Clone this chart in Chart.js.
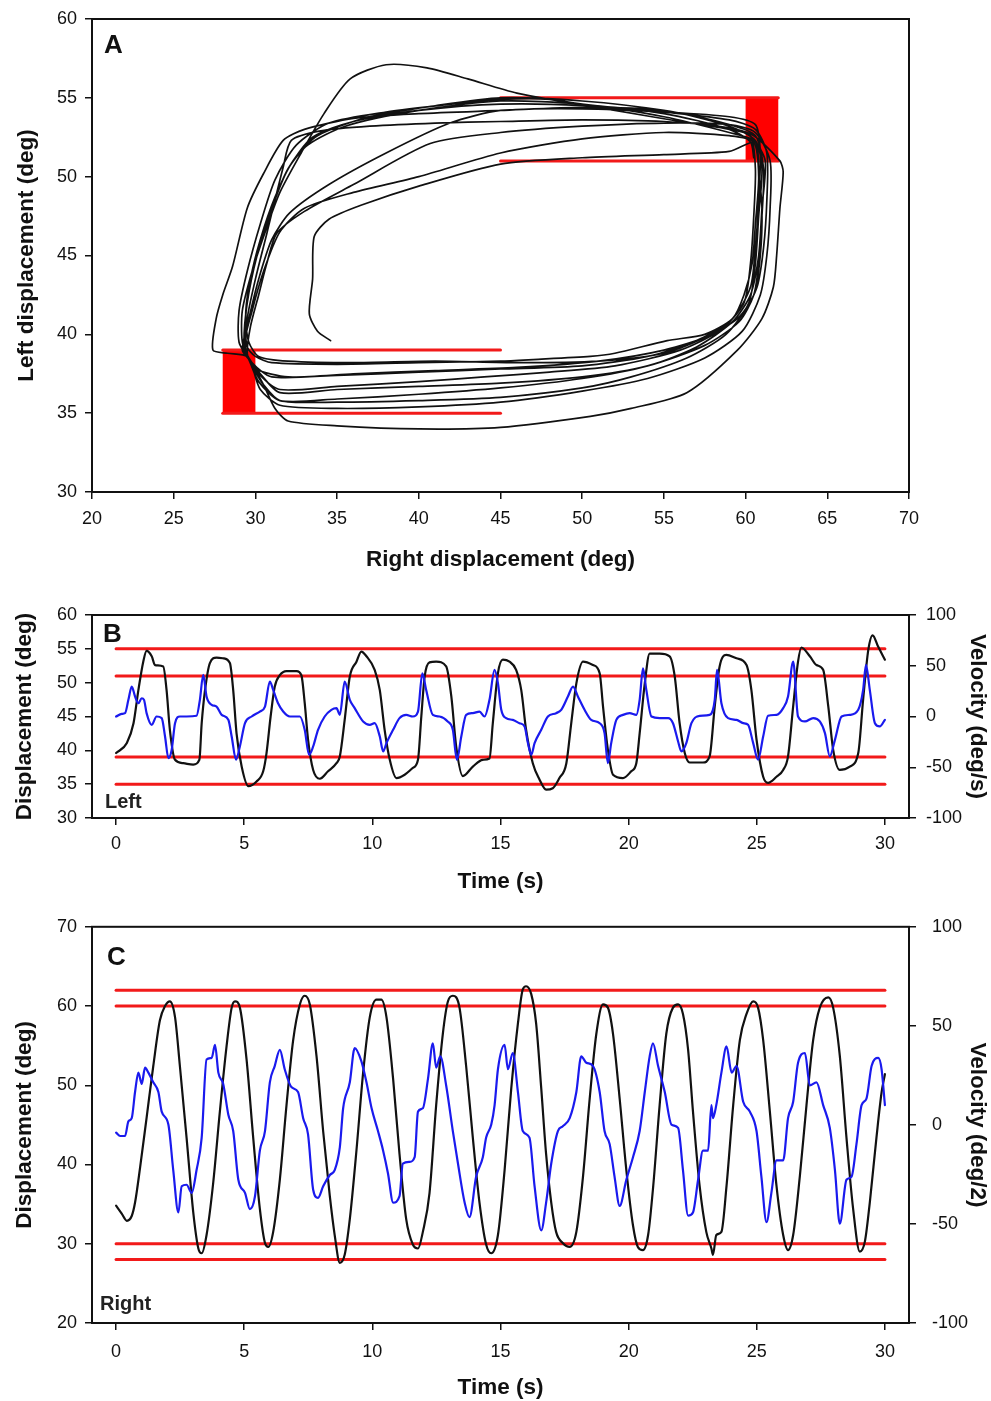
<!DOCTYPE html>
<html>
<head>
<meta charset="utf-8">
<script src="https://cdn.jsdelivr.net/npm/chart.js@4.4.0/dist/chart.umd.min.js"></script>
<style>
  body { margin: 0; background: #fff; }
  canvas { position: absolute; left: 0; }
</style>
</head>
<body>
<canvas id="chartA" width="991" height="590" style="top:0px"></canvas>
<canvas id="chartB" width="991" height="310" style="top:590px"></canvas>
<canvas id="chartC" width="991" height="501" style="top:900px"></canvas>
<script>
// ---- Panel A: left vs right displacement trace (deg) ----
const traceRight = [
  34.6, 33.8, 33.3, 33.5, 33.6, 34.5, 36.5, 40, 45, 50, 55, 59, 60.6, 60.8, 61.0, 60.9, 60.5, 59.5, 57.5, 55, 51, 46, 41, 36, 32, 30.2,
  29.6, 29.4, 29.6, 30.2, 31.0, 32.0, 33.2, 35.5, 40, 45, 50, 55, 59, 60.5, 61.2, 61.0, 60.8, 60.3, 59.2, 57, 54, 50, 45, 40, 35, 31.5, 30.3, 29.6,
  29.2, 29.2, 29.8, 30.6, 31.5, 32.8, 34.2, 35.8, 38, 40.5, 43, 46, 50, 55, 59, 60.6, 61.3, 61.3, 61.1, 60.7, 59.8, 58, 55, 51, 46, 41, 36, 32, 30, 29.5,
  28.3, 27.4, 27.6, 28.0, 28.6, 29.5, 30.5, 31.7, 33, 36, 40, 45, 50, 55, 59, 60.6, 61.0, 60.8, 60.6, 60.2, 58.8, 56.4, 53, 50, 45, 40, 35, 31.5, 30.5, 29.8,
  29.5, 29.7, 30.2, 30.7, 31.3, 33, 36, 40.7, 45, 50, 55, 59, 60.6, 61.5, 61.5, 61.3, 60.9, 59.8, 57.5, 54, 50, 45, 40, 35, 31.5, 30.3, 29.8,
  29.4, 29.5, 30, 30.7, 31.7, 32.2, 34, 37, 41, 45, 50, 55, 59, 60.5, 62.1, 62.3, 62.1, 61.9, 61.7, 61.0, 59.5, 56.4, 53, 50.5, 45, 40, 35, 32, 31.2, 30.5, 29.7,
  29.2, 29.6, 30.2, 31, 32.1, 34.5, 38, 41.9, 45, 50, 55, 59, 60.6, 60.9, 60.8, 60.6, 60.3, 59.2, 57, 54, 50, 45, 40, 35, 31, 29.8,
  29.3, 29.8, 30.5, 31.5, 33, 36, 40, 45, 50, 55, 59, 60.5, 60.8, 60.6, 60.4, 59.9, 59.2, 57.5, 55.2, 52, 50.5, 47, 45, 40, 35, 31, 30,
  29.5, 29.4, 29.7, 30.3, 31.2, 32.3, 33.8, 37, 41, 45, 50, 55, 59, 60.6, 61.1, 61.0, 60.8, 60.5, 59.6, 57.5, 54, 50, 45, 40, 35, 31.5, 30.2, 29.6,
  29.0, 29.0, 29.5, 30.3, 31.2, 32.5, 34.5, 38, 42, 45, 48, 52, 56, 59, 60.3, 60.6, 60.5, 60.3, 59.9, 58.5, 56, 52, 48, 44, 40, 35, 31.5, 30.2, 29.5, 29.3,
  29.5, 30.1, 31, 32, 33.5, 36, 40, 45, 50, 55, 59, 60.3, 60.5
];
const traceLeft = [
  39.6, 40.2, 41.3, 43.5, 46.2, 47.3, 48.2, 49.4, 50.8, 51.2, 51.4, 51.6, 52.2, 50.5, 48, 45, 42.5, 41, 39.8, 38.8, 38.3, 38.2, 38.3, 38.2, 38.3, 38.6,
  39.5, 41, 43, 45.5, 48, 50.5, 52, 53.2, 54.2, 54.8, 54.6, 53.8, 52.8, 52.3, 51, 48, 45, 42.5, 40.8, 39.2, 38.0, 37.3, 36.9, 36.7, 36.5, 36.3, 37.5, 38.5,
  39.5, 41.5, 44, 46.5, 49, 51.5, 54, 56.2, 57.1, 56.9, 56.2, 55.3, 54.6, 54.1, 53.6, 53, 51.5, 48.5, 45.5, 43, 41.3, 40, 39, 38.3, 37.9, 37.7, 37.5, 37.3, 37.8, 38.6,
  38.8, 39, 41, 42.5, 44.3, 48, 50.2, 52.3, 53, 53.7, 54, 54.2, 54.4, 54.2, 53.2, 52.3, 50.5, 47.5, 44.5, 42, 40, 38.5, 37.3, 36.6, 36.0, 35.8, 35.7, 35.8, 36.8, 38,
  38.8, 40.5, 42.5, 44.5, 46.4, 47.8, 49.5, 52.1, 52.8, 53.2, 53.4, 53.3, 52.8, 51, 48, 45, 42.5, 40.2, 38.5, 37.2, 36.4, 35.7, 35.4, 35.3, 35.5, 36.5, 38,
  39, 41, 43.5, 46.4, 50.6, 52.3, 52.9, 53.2, 53.4, 53.5, 53.6, 53.5, 53.1, 52.6, 51, 50.3, 48, 45, 43, 41, 39, 36.3, 35.3, 34.8, 34.1, 34.0, 34.2, 34.5, 35.3, 36.8, 38.3,
  39, 41, 43.5, 46, 47.7, 49.5, 51.5, 53.4, 54.2, 54.3, 54.1, 53.8, 53.3, 51.5, 48.5, 45.5, 43, 41, 39.6, 38.6, 38.0, 37.8, 37.6, 37.4, 37.3, 38.2,
  39.2, 41.5, 44, 46.5, 48, 49, 50, 51.5, 52.4, 52.8, 52.6, 52.2, 50, 47, 44.5, 42.5, 41, 40.0, 39.6, 38.8, 38.6, 38.4, 38.3, 38.2, 38.1, 38.2, 38.6,
  39.2, 41, 43.5, 46, 48.7, 51, 52.6, 53.8, 54.5, 55.0, 54.8, 54.2, 53.3, 52.6, 50.5, 47.5, 44.5, 42.5, 40.8, 39.3, 38.0, 37.2, 36.6, 36.2, 35.9, 35.8, 37.0, 38.4,
  39.5, 41.5, 44, 47, 49.8, 52, 53.4, 54.1, 54.6, 54.9, 54.9, 54.2, 53.5, 53, 52.6, 50.5, 47.5, 44.5, 42, 40.3, 39.0, 38.0, 37.6, 37.3, 37.0, 36.7, 36.5, 37.5, 38.7, 39.5,
  42, 45, 48, 50.5, 52.5, 53.5, 54.2, 54.6, 54.5, 54.0, 53.0, 52.2, 51.2
];
// target zones (red)
const zoneLowRight = [28, 28, 30, 30];
const zoneLowLeft = [35, 39, 39, 35];
const zoneHighRight = [60, 60, 62, 62];
const zoneHighLeft = [51, 55, 55, 51];
const guideLowRight = [28, 45];
const guideLowLevels = [39, 35];
const guideHighRight = [45, 62];
const guideHighLevels = [55, 51];
const aRightTicks = [20, 25, 30, 35, 40, 45, 50, 55, 60, 65, 70];
const aLeftTicks = [30, 35, 40, 45, 50, 55, 60];

// ---- Panel B: left eye ----
const bTime = [0, 0.42, 0.68, 0.87, 1.06, 1.19, 1.39, 1.52, 1.84, 1.97, 2.10, 2.30, 2.62, 3.01, 3.25, 3.34, 3.47, 3.66, 3.92, 4.18, 4.44, 4.57, 4.70, 4.90, 5.16, 5.48, 5.74, 5.87, 6.03, 6.19, 6.39, 6.65, 7.04, 7.23, 7.36, 7.49, 7.69, 7.95, 8.27, 8.60, 8.73, 8.92, 9.12, 9.38, 9.57, 9.77, 10.09, 10.29, 10.48, 10.68, 10.94, 11.26, 11.58, 11.78, 11.91, 12.04, 12.23, 12.49, 12.88, 13.08, 13.27, 13.53, 13.92, 14.31, 14.57, 14.70, 14.90, 15.09, 15.35, 15.61, 15.81, 16.00, 16.26, 16.52, 16.78, 17.04, 17.30, 17.57, 17.76, 17.96, 18.22, 18.61, 18.87, 19.00, 19.19, 19.39, 19.78, 20.10, 20.30, 20.43, 20.63, 20.82, 21.21, 21.60, 21.80, 21.99, 22.19, 22.38, 22.90, 23.16, 23.36, 23.55, 23.81, 24.21, 24.60, 24.79, 24.99, 25.25, 25.44, 25.77, 26.03, 26.22, 26.42, 26.61, 26.74, 27.07, 27.33, 27.59, 27.79, 27.98, 28.24, 28.63, 28.96, 29.15, 29.35, 29.52, 29.74, 30.00];
const bDisp = [39.6, 41.1, 44.0, 48.9, 53.1, 54.7, 53.9, 52.6, 52.4, 48.9, 43.0, 38.6, 38.1, 37.9, 38.6, 44.0, 48.9, 52.9, 53.7, 53.6, 52.9, 48.9, 42.5, 37.6, 34.7, 35.4, 36.9, 39.6, 45.0, 49.4, 51.1, 51.7, 51.7, 51.1, 47.0, 41.6, 37.1, 35.8, 36.9, 38.1, 39.1, 44.5, 50.9, 53.1, 54.6, 53.9, 51.9, 48.9, 43.0, 38.6, 35.9, 36.4, 37.4, 38.6, 45.0, 50.9, 53.0, 53.1, 52.4, 48.0, 40.6, 36.2, 37.6, 38.6, 38.8, 44.0, 51.4, 53.4, 53.1, 51.9, 48.9, 43.0, 38.1, 35.7, 34.2, 34.4, 35.9, 38.1, 44.0, 49.9, 53.1, 52.6, 51.4, 46.5, 40.1, 36.4, 35.9, 36.9, 38.1, 42.5, 49.9, 54.3, 54.3, 53.9, 50.9, 44.0, 39.6, 38.2, 38.2, 39.1, 46.5, 52.4, 54.1, 53.6, 52.6, 48.9, 41.6, 36.1, 35.2, 36.1, 37.1, 39.1, 46.5, 53.1, 55.2, 53.9, 52.6, 51.9, 46.5, 40.1, 37.1, 37.6, 39.6, 47.5, 54.8, 57.0, 55.3, 53.4];
const bVelTime = [0, 0.22, 0.35, 0.48, 0.61, 0.74, 0.87, 1.0, 1.09, 1.19, 1.39, 1.58, 1.78, 1.91, 2.04, 2.17, 2.30, 2.49, 2.75, 3.14, 3.27, 3.40, 3.53, 3.73, 3.92, 4.12, 4.38, 4.51, 4.68, 4.83, 5.03, 5.29, 5.61, 5.81, 6.0, 6.13, 6.32, 6.52, 6.78, 7.17, 7.36, 7.53, 7.69, 7.88, 8.14, 8.40, 8.60, 8.73, 8.92, 9.12, 9.31, 9.64, 9.90, 10.09, 10.29, 10.42, 10.55, 10.81, 11.06, 11.32, 11.58, 11.78, 11.95, 12.10, 12.36, 12.62, 12.94, 13.14, 13.30, 13.47, 13.66, 13.92, 14.18, 14.38, 14.57, 14.77, 14.90, 15.03, 15.22, 15.48, 15.74, 15.94, 16.07, 16.20, 16.33, 16.59, 16.85, 17.17, 17.37, 17.63, 17.83, 18.02, 18.28, 18.54, 18.87, 19.06, 19.19, 19.32, 19.52, 19.78, 20.04, 20.30, 20.43, 20.56, 20.69, 20.89, 21.21, 21.54, 21.73, 21.93, 22.06, 22.25, 22.45, 22.77, 23.16, 23.36, 23.45, 23.62, 23.88, 24.21, 24.47, 24.66, 24.86, 25.05, 25.25, 25.44, 25.77, 26.03, 26.22, 26.42, 26.61, 26.88, 27.20, 27.46, 27.66, 27.85, 28.05, 28.31, 28.63, 28.96, 29.15, 29.26, 29.41, 29.61, 29.80, 30.00];
const bVel = [0, 2.6, 3.3, 16.4, 29.5, 19.7, 13.1, 18.0, 16.4, 3.3, -8.2, 0, -1.6, -19.7, -41, -32.8, -6.6, 0, 0, 0.7, 16.4, 41, 19.7, 11.5, 9.8, 1.6, -3.3, -19.7, -42.6, -29.5, -6.6, 0, 4.9, 9.8, 34.4, 26.2, 13.1, 4.9, 0, 0, -13.1, -37.7, -29.5, -13.1, 0, 6.6, 8.2, 1.6, 34.4, 16.4, 8.2, -4.9, -8.2, -6.6, -19.7, -34.4, -26.2, -13.1, -1.6, 1.6, 0, 4.9, 42.6, 26.2, 1.6, 0, -4.9, -13.1, -42.6, -19.7, 1.6, 3.3, 4.9, 0, 16.4, 45.9, 32.8, 6.6, -1.6, -3.3, -6.6, -9.8, -26.2, -37.7, -26.2, -13.1, 0, 3.3, 6.6, 19.7, 29.5, 19.7, 6.6, -3.3, -6.6, -16.4, -45.9, -26.2, -3.3, 1.6, 3.3, 1.6, 16.4, 47.5, 26.2, 0, -1.6, -1.6, -6.6, -24.6, -34.4, -26.2, -6.6, 0.7, 1.6, 16.4, 45.9, 13.1, -1.6, -3.3, -6.6, -8.2, -26.2, -42.6, -19.7, 0.7, 1.6, 8.2, 19.7, 54.1, 0, -4.9, -1.6, -4.9, -16.4, -39.3, -23, 0, 1.6, 6.6, 26.2, 50.8, 26.2, -6.6, -9.8, -3.3];
const bLimits = [55, 51, 39, 35];
const bDispTicks = [30, 35, 40, 45, 50, 55, 60];

// ---- Panel C: right eye ----
const cTime = [0, 0.22, 0.42, 0.61, 0.74, 0.94, 1.19, 1.45, 1.71, 1.91, 2.10, 2.30, 2.49, 2.75, 3.01, 3.21, 3.34, 3.53, 3.79, 4.05, 4.31, 4.51, 4.64, 4.83, 5.09, 5.35, 5.61, 5.81, 5.94, 6.13, 6.39, 6.65, 6.91, 7.17, 7.36, 7.56, 7.82, 8.08, 8.34, 8.53, 8.73, 8.92, 9.12, 9.38, 9.64, 9.90, 10.16, 10.35, 10.55, 10.81, 11.06, 11.32, 11.58, 11.78, 11.97, 12.23, 12.49, 12.75, 12.95, 13.14, 13.40, 13.66, 13.92, 14.18, 14.44, 14.64, 14.90, 15.16, 15.42, 15.68, 15.87, 16.00, 16.20, 16.39, 16.59, 16.78, 16.98, 17.17, 17.43, 17.70, 17.96, 18.22, 18.48, 18.74, 19.00, 19.19, 19.39, 19.65, 19.91, 20.17, 20.36, 20.56, 20.76, 20.96, 21.21, 21.47, 21.73, 21.93, 22.12, 22.32, 22.51, 22.77, 23.03, 23.23, 23.29, 23.42, 23.62, 23.82, 24.08, 24.34, 24.60, 24.86, 25.05, 25.25, 25.51, 25.77, 26.03, 26.22, 26.42, 26.68, 26.94, 27.20, 27.46, 27.79, 27.98, 28.24, 28.50, 28.76, 29.02, 29.22, 29.41, 29.67, 29.87, 30.00];
const cDisp = [34.8, 33.8, 32.9, 33.5, 35.2, 39.7, 45.9, 52.4, 58.2, 60.0, 60.6, 58.6, 52.4, 43.4, 34.0, 29.4, 28.8, 31.1, 37.7, 46.7, 54.9, 59.8, 60.6, 59.8, 53.3, 43.4, 34.4, 30.1, 29.6, 31.5, 38.1, 47.5, 55.7, 60.2, 61.3, 60.2, 53.7, 44.2, 36.0, 31.1, 27.6, 28.6, 33.1, 41.8, 51.6, 58.6, 60.8, 60.8, 58.6, 50.8, 41.3, 33.1, 29.9, 29.4, 31.5, 36.4, 47.5, 56.5, 60.6, 61.3, 59.8, 52.4, 43.4, 35.2, 29.9, 28.8, 31.1, 39.3, 49.6, 57.8, 62.1, 62.5, 61.5, 57.8, 49.6, 41.3, 35.2, 31.5, 30.1, 29.6, 31.5, 38.5, 48.3, 56.5, 60.2, 59.8, 56.5, 48.3, 39.3, 32.3, 29.6, 29.2, 31.1, 37.3, 47.5, 56.5, 59.8, 60.2, 59.0, 54.5, 46.7, 37.3, 31.5, 29.4, 28.6, 31.1, 31.5, 37.3, 47.5, 55.7, 59.0, 60.6, 59.8, 55.7, 46.7, 37.3, 31.1, 29.2, 31.1, 38.5, 47.5, 55.7, 59.8, 61.1, 59.8, 53.7, 43.4, 34.4, 29.0, 30.3, 35.2, 43.4, 49.1, 51.4];
const cVelTime = [0, 0.16, 0.35, 0.48, 0.61, 0.74, 0.87, 1.0, 1.13, 1.26, 1.45, 1.65, 1.78, 2.04, 2.23, 2.43, 2.56, 2.75, 2.95, 3.14, 3.34, 3.53, 3.73, 3.86, 3.99, 4.18, 4.38, 4.57, 4.77, 5.03, 5.22, 5.42, 5.61, 5.81, 6.0, 6.19, 6.39, 6.58, 6.84, 7.10, 7.30, 7.49, 7.69, 7.88, 8.08, 8.34, 8.53, 8.73, 8.86, 9.12, 9.31, 9.57, 9.77, 9.97, 10.22, 10.42, 10.61, 10.81, 11.06, 11.19, 11.45, 11.65, 11.78, 11.97, 12.17, 12.36, 12.49, 12.65, 12.88, 13.14, 13.34, 13.60, 13.79, 14.05, 14.31, 14.44, 14.64, 14.77, 14.90, 15.16, 15.29, 15.48, 15.68, 15.87, 16.13, 16.33, 16.59, 16.78, 16.98, 17.24, 17.43, 17.70, 17.96, 18.15, 18.35, 18.61, 18.87, 19.06, 19.26, 19.45, 19.65, 19.91, 20.17, 20.43, 20.63, 20.82, 20.95, 21.15, 21.41, 21.67, 21.93, 22.12, 22.32, 22.51, 22.71, 22.90, 23.10, 23.23, 23.29, 23.42, 23.62, 23.82, 24.02, 24.21, 24.47, 24.73, 24.99, 25.18, 25.38, 25.57, 25.77, 26.03, 26.22, 26.42, 26.61, 26.88, 27.07, 27.33, 27.59, 27.85, 28.05, 28.24, 28.50, 28.70, 28.89, 29.09, 29.28, 29.48, 29.74, 29.87, 30.00];
const cVel = [-3.9, -5.6, -5.6, 1.8, 3.4, 16.6, 26.4, 20.7, 28.9, 26.4, 21.5, 16.6, 6.7, 0.2, -22.8, -44.2, -31.0, -30.2, -34.3, -22.8, -6.4, 33.0, 33.8, 40.4, 26.4, 20.7, 5.1, -3.1, -27.7, -34.3, -42.5, -36, -13, -3.1, 21.5, 29.7, 37.9, 28.1, 19.1, 16.6, 3.4, -4.8, -32.7, -36.8, -31.0, -25.3, -22.8, -11.3, 8.4, 21.5, 38.8, 32.2, 21.5, 8.4, -3.1, -13, -24.5, -39.2, -36, -19.5, -18.7, -16.3, 6.7, 8.4, 23.2, 41.2, 28.9, 34.6, 19.9, -3.1, -19.5, -39.2, -46.6, -26.1, -16.3, -6.4, 0.2, 10.0, 28.1, 40.4, 28.1, 36.3, 16.6, -3.1, -6.4, -31.0, -53.2, -39.2, -19.5, -3.1, -0.7, 3.4, 16.6, 34.6, 31.4, 29.7, 16.6, -3.1, -9.7, -26.1, -40.9, -27.7, -16.3, -3.1, 16.6, 34.6, 41.2, 29.7, 16.6, 0.2, -1.5, -22.8, -45.8, -44.2, -27.7, -13, -13, 10, 3.4, 10, 26.4, 39.6, 26.4, 29.7, 11.7, 6.7, -3.1, -26.1, -49.1, -34.3, -17.9, -17.9, 3.4, 11.7, 31.4, 36.3, 19.9, 21.5, 10, -1.5, -22.8, -49.9, -27.7, -26.1, -9.7, 10, 13.3, 29.7, 33.8, 28.1, 10];
const cLimits = [62, 60, 30, 28];
const cDispTicks = [20, 30, 40, 50, 60, 70];

// shared
const limitSpan = [0, 30];
const timeTicks = [0, 5, 10, 15, 20, 25, 30];
const velTicks = [-100, -50, 0, 50, 100];

const FONT = 'Arial, "Liberation Sans", sans-serif';
const INK = '#111111';
const RED = '#f21a1a';
const BLUE = '#1a1aee';

function pts(xs, ys) {
  return xs.map((x, i) => ({ x: x, y: ys[i] }));
}

function redLine(xs, level, yAxisID) {
  return {
    data: pts(xs, xs.map(() => level)),
    borderColor: RED, borderWidth: 3, tension: 0, order: 5, yAxisID: yAxisID || 'y'
  };
}

function axis(o) {
  const vertical = o.position !== 'bottom';
  return {
    type: 'linear',
    position: o.position,
    min: o.min,
    max: o.max,
    afterBuildTicks: s => { s.ticks = o.values.map(v => ({ value: v })); },
    afterFit: s => { if (vertical) s.width = o.size; else s.height = o.size; },
    border: { display: true, color: INK, width: 2 },
    grid: { drawOnChartArea: false, drawTicks: true, tickLength: 7, color: INK, lineWidth: 1.5 },
    ticks: {
      color: INK, padding: o.tickPad, maxRotation: 0, autoSkip: false,
      font: { family: FONT, size: 18 },
      callback: v => String(v)
    },
    title: {
      display: true, text: o.title, color: INK,
      font: { family: FONT, size: 22.5, weight: 'bold' },
      padding: vertical ? { top: o.titlePad, bottom: 0 } : { top: 0, bottom: o.titlePad }
    }
  };
}

// frame + panel letters
const panelFrame = {
  id: 'panelFrame',
  afterDraw(chart, args, o) {
    const { ctx, chartArea: a } = chart;
    ctx.save();
    ctx.strokeStyle = INK;
    ctx.lineWidth = 2;
    ctx.strokeRect(a.left, a.top, a.right - a.left, a.bottom - a.top);
    ctx.fillStyle = INK;
    ctx.textAlign = 'left';
    ctx.textBaseline = 'alphabetic';
    ctx.font = 'bold 26px ' + FONT;
    ctx.fillText(o.letter, a.left + o.letterX, a.top + o.letterY);
    if (o.side) {
      ctx.font = 'bold 20px ' + FONT;
      ctx.fillStyle = '#222';
      ctx.fillText(o.side, a.left + o.sideX, a.bottom - o.sideY);
    }
    ctx.restore();
  }
};

const common = {
  responsive: false,
  animation: false,
  events: [],
  elements: { point: { radius: 0 }, line: { borderCapStyle: 'round', borderJoinStyle: 'round' } },
};

// Panel A
new Chart(document.getElementById('chartA'), {
  type: 'line',
  plugins: [panelFrame],
  data: {
    datasets: [
      { data: pts(traceRight, traceLeft), borderColor: INK, borderWidth: 1.7, tension: 0.25, order: 1 },
      { data: pts(zoneLowRight, zoneLowLeft), fill: 'shape', backgroundColor: '#ff0000', borderWidth: 0, tension: 0, order: 9 },
      { data: pts(zoneHighRight, zoneHighLeft), fill: 'shape', backgroundColor: '#ff0000', borderWidth: 0, tension: 0, order: 9 },
      redLine(guideLowRight, guideLowLevels[0]),
      redLine(guideLowRight, guideLowLevels[1]),
      redLine(guideHighRight, guideHighLevels[0]),
      redLine(guideHighRight, guideHighLevels[1])
    ]
  },
  options: {
    ...common,
    layout: { padding: { top: 19, right: 82, left: 0, bottom: 0 } },
    plugins: {
      legend: { display: false }, tooltip: { enabled: false },
      panelFrame: { letter: 'A', letterX: 12, letterY: 34 }
    },
    scales: {
      x: axis({ position: 'bottom', min: 20, max: 70, values: aRightTicks, size: 98, tickPad: 9, title: 'Right displacement (deg)', titlePad: 17 }),
      y: axis({ position: 'left', min: 30, max: 60, values: aLeftTicks, size: 92, tickPad: 8, title: 'Left displacement (deg)', titlePad: 13 })
    }
  }
});

// Panel B
new Chart(document.getElementById('chartB'), {
  type: 'line',
  plugins: [panelFrame],
  data: {
    datasets: [
      ...bLimits.map(l => redLine(limitSpan, l)),
      { data: pts(bTime, bDisp), borderColor: INK, borderWidth: 2.2, cubicInterpolationMode: 'monotone', order: 2, yAxisID: 'y' },
      { data: pts(bVelTime, bVel), borderColor: BLUE, borderWidth: 2.2, cubicInterpolationMode: 'monotone', order: 1, yAxisID: 'v' }
    ]
  },
  options: {
    ...common,
    layout: { padding: { top: 25, right: 0, left: 0, bottom: 0 } },
    plugins: {
      legend: { display: false }, tooltip: { enabled: false },
      panelFrame: { letter: 'B', letterX: 11, letterY: 27, side: 'Left', sideX: 13, sideY: 10 }
    },
    scales: {
      x: axis({ position: 'bottom', min: -0.94, max: 30.94, values: timeTicks, size: 82, tickPad: 8, title: 'Time (s)', titlePad: 5 }),
      y: axis({ position: 'left', min: 30, max: 60, values: bDispTicks, size: 92, tickPad: 8, title: 'Displacement (deg)', titlePad: 11 }),
      v: axis({ position: 'right', min: -100, max: 100, values: velTicks, size: 82, tickPad: 10, title: 'Velocity (deg/s)', titlePad: 0 })
    }
  }
});

// Panel C
new Chart(document.getElementById('chartC'), {
  type: 'line',
  plugins: [panelFrame],
  data: {
    datasets: [
      ...cLimits.map(l => redLine(limitSpan, l)),
      { data: pts(cTime, cDisp), borderColor: INK, borderWidth: 2.2, cubicInterpolationMode: 'monotone', order: 2, yAxisID: 'y' },
      { data: pts(cVelTime, cVel), borderColor: BLUE, borderWidth: 2.2, cubicInterpolationMode: 'monotone', order: 1, yAxisID: 'v' }
    ]
  },
  options: {
    ...common,
    layout: { padding: { top: 17, right: 0, left: 0, bottom: 0 } },
    plugins: {
      legend: { display: false }, tooltip: { enabled: false },
      panelFrame: { letter: 'C', letterX: 15, letterY: 38, side: 'Right', sideX: 8, sideY: 13 }
    },
    scales: {
      x: axis({ position: 'bottom', min: -0.94, max: 30.94, values: timeTicks, size: 78, tickPad: 11, title: 'Time (s)', titlePad: 0 }),
      y: axis({ position: 'left', min: 20, max: 70, values: cDispTicks, size: 92, tickPad: 8, title: 'Displacement (deg)', titlePad: 11 }),
      v: axis({ position: 'right', min: -100, max: 100, values: velTicks, size: 82, tickPad: 16, title: 'Velocity (deg/2)', titlePad: 0 })
    }
  }
});
</script>
</body>
</html>
